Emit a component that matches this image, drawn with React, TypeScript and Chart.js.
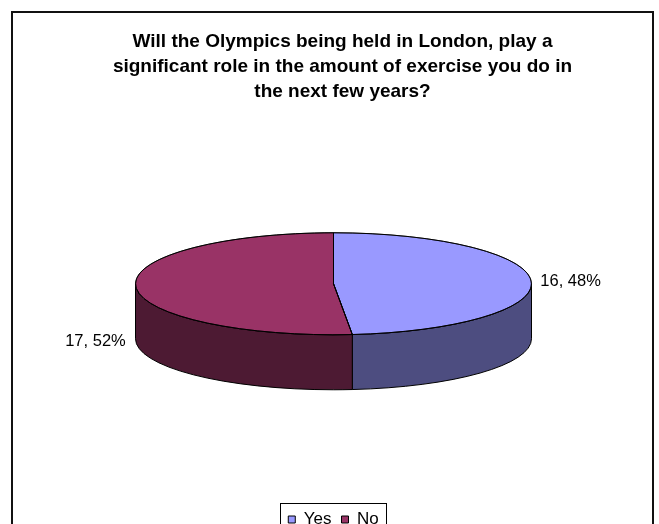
import React, { useEffect, useRef } from 'react';
import { Chart, registerables } from 'chart.js';

Chart.register(...registerables);

const TITLE_LINES = [
  'Will the Olympics being held in London, play a',
  'significant role in the amount of exercise you do in',
  'the next few years?',
];
const CATEGORIES = ['Yes', 'No'];
const VALUES = [16, 17];
const TOP_COLORS = ['#9999FF', '#993366'];
const SIDE_COLORS = ['#4D4D80', '#4D1A33'];

const FONT = "'Liberation Sans', Arial, Helvetica, sans-serif";
const TILT = 0.2576;
const DEPTH = 55;
const TITLE_SHIFT = 9;

const pie3d = {
  id: 'pie3d',
  afterLayout(chart: any) {
    const t = chart.titleBlock;
    if (t) {
      t.left += TITLE_SHIFT;
      t.right += TITLE_SHIFT;
    }
  },
  beforeDraw(chart: any) {
    const ctx = chart.ctx;
    ctx.save();
    ctx.fillStyle = '#fff';
    ctx.fillRect(0, 0, chart.width, chart.height);
    ctx.strokeStyle = '#111';
    ctx.lineWidth = 2;
    ctx.strokeRect(12, 12, chart.width - 12 - 6, chart.height + 40);
    ctx.restore();
  },
  beforeDatasetsDraw(chart: any) {
    const ctx = chart.ctx;
    const arcs = chart.getDatasetMeta(0).data;
    if (!arcs.length) return;
    const a0 = arcs[0];
    const cx = a0.x;
    const cyMid = a0.y;
    const rx = a0.outerRadius;
    const ry = rx * TILT;
    const cy = cyMid - DEPTH / 2;
    ctx.save();
    arcs.forEach((arc: any, i: number) => {
      const s = arc.startAngle;
      const e = arc.endAngle;
      for (const off of [-2 * Math.PI, 0, 2 * Math.PI]) {
        const a = Math.max(s, off);
        const b = Math.min(e, off + Math.PI);
        if (b > a) {
          ctx.beginPath();
          ctx.ellipse(cx, cy, rx, ry, 0, a, b, false);
          ctx.lineTo(cx + rx * Math.cos(b), cy + DEPTH + ry * Math.sin(b));
          ctx.ellipse(cx, cy + DEPTH, rx, ry, 0, b, a, true);
          ctx.closePath();
          ctx.fillStyle = SIDE_COLORS[i];
          ctx.fill();
          ctx.lineWidth = 1;
          ctx.strokeStyle = '#000';
          ctx.stroke();
        }
      }
    });
    ctx.restore();
    ctx.save();
    ctx.translate(0, cy);
    ctx.scale(1, TILT);
    ctx.translate(0, -cyMid);
  },
  afterDatasetsDraw(chart: any) {
    const ctx = chart.ctx;
    ctx.restore();
    const arcs = chart.getDatasetMeta(0).data;
    if (!arcs.length) return;
    const a0 = arcs[0];
    const cx = a0.x;
    const rx = a0.outerRadius;
    const ry = rx * TILT;
    const cy = a0.y - DEPTH / 2;
    const values: number[] = chart.data.datasets[0].data;
    const total = values.reduce((p, v) => p + v, 0);
    ctx.save();
    ctx.lineWidth = 1;
    ctx.strokeStyle = '#000';
    arcs.forEach((arc: any) => {
      ctx.beginPath();
      ctx.moveTo(cx, cy);
      ctx.ellipse(cx, cy, rx, ry, 0, arc.startAngle, arc.endAngle, false);
      ctx.closePath();
      ctx.stroke();
    });
    ctx.fillStyle = '#000';
    ctx.font = `16.5px ${FONT}`;
    ctx.textBaseline = 'middle';
    arcs.forEach((arc: any, i: number) => {
      const m = (arc.startAngle + arc.endAngle) / 2;
      const left = Math.cos(m) < 0;
      const x = cx + rx * Math.cos(m) + (left ? -10 : 9);
      const y = cy + ry * Math.sin(m) + (left ? DEPTH : 0);
      ctx.textAlign = left ? 'right' : 'left';
      ctx.fillText(`${values[i]}, ${Math.round((values[i] / total) * 100)}%`, x, y);
    });
    ctx.restore();
  },
  afterDraw(chart: any) {
    const lg = chart.legend;
    if (!lg || !lg.legendHitBoxes || !lg.legendHitBoxes.length) return;
    const boxes = lg.legendHitBoxes;
    const first = boxes[0];
    const last = boxes[boxes.length - 1];
    const ctx = chart.ctx;
    ctx.save();
    ctx.strokeStyle = '#000';
    ctx.lineWidth = 1;
    const l = Math.round(first.left - 8) + 0.5;
    const r = Math.round(last.left + last.width + 7) + 0.5;
    const t = Math.round(first.top - 8) + 0.5;
    ctx.strokeRect(l, t, r - l, 40);
    ctx.restore();
  },
};

export default function App() {
  const ref = useRef<HTMLCanvasElement>(null);
  useEffect(() => {
    if (!ref.current) return;
    const chart = new Chart(ref.current, {
      type: 'pie',
      data: {
        labels: CATEGORIES,
        datasets: [
          {
            data: VALUES,
            backgroundColor: TOP_COLORS,
            borderColor: '#000',
            borderWidth: 1,
          },
        ],
      },
      options: {
        responsive: false,
        animation: false,
        devicePixelRatio: 1,
        events: [],
        radius: 198,
        layout: { padding: { left: 8, right: 0, top: 0, bottom: -14 } },
        plugins: {
          title: {
            display: true,
            text: TITLE_LINES,
            color: '#000',
            font: { family: FONT, size: 19, weight: 'bold', lineHeight: 1.29 },
            padding: { top: 30, bottom: 18 },
          },
          legend: {
            position: 'bottom',
            labels: {
              color: '#000',
              font: { family: FONT, size: 17 },
              boxWidth: 7,
              boxHeight: 7,
              padding: 10,
            },
          },
          tooltip: { enabled: false },
        },
      } as any,
      plugins: [pie3d],
    });
    return () => chart.destroy();
  }, []);
  return (
    <div style={{ position: 'absolute', left: 0, top: 0, width: 659, height: 524, background: '#fff' }}>
      <canvas ref={ref} width={659} height={524} style={{ display: 'block' }} />
    </div>
  );
}
